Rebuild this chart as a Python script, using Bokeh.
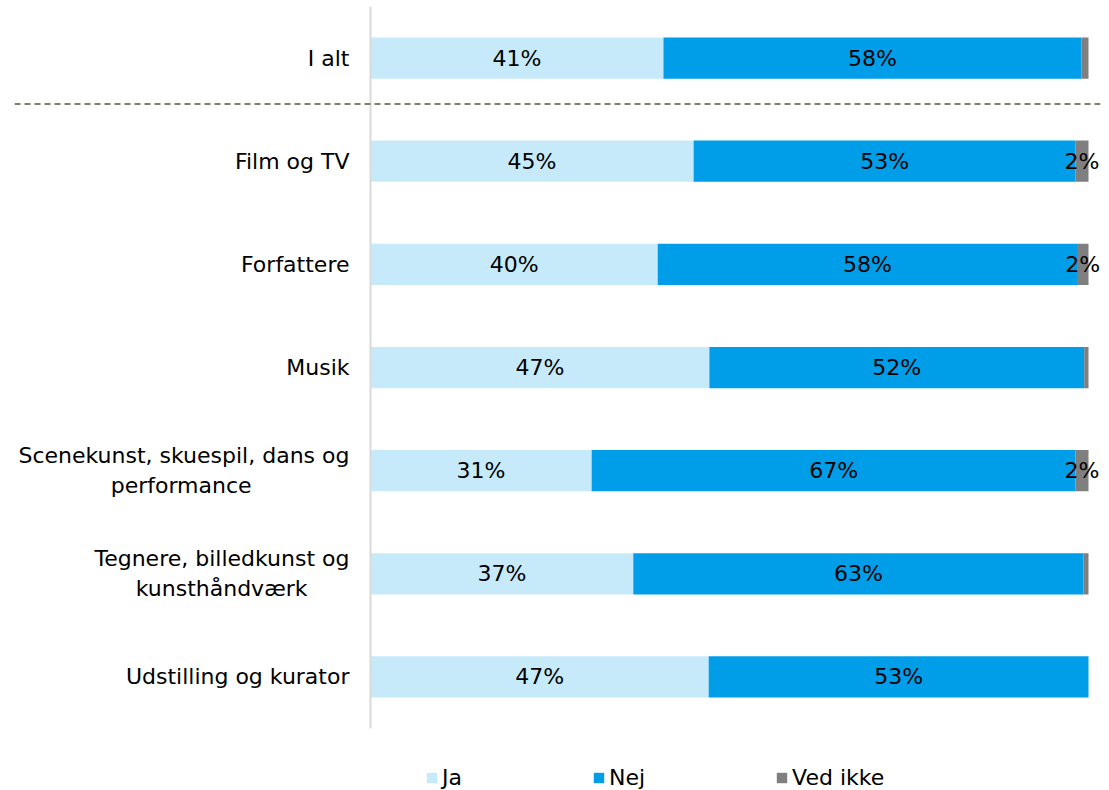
from bokeh.plotting import figure
from bokeh.models import Range1d, Span, Legend, LegendItem, ColumnDataSource, FixedTicker
from bokeh.embed import file_html
from bokeh.resources import INLINE
from bokeh.core.properties import value

NB = "\u00a0"
categories = ["I alt", "Film og TV", "Forfattere", "Musik",
              "Scenekunst, skuespil, dans og\nperformance" + NB * 14,
              "Tegnere, billedkunst og\nkunsthåndværk" + NB * 6,
              "Udstilling og kurator"]
ja = [40.8, 45.0, 40.0, 47.2, 30.8, 36.6, 47.1]
nej = [58.2, 53.2, 58.4, 52.2, 67.4, 62.7, 52.9]
ved_ikke = [1.0, 1.8, 1.6, 0.6, 1.8, 0.7, 0.0]
series = ["Ja", "Nej", "Ved ikke"]
colors = ["#c7eafb", "#009ee8", "#7f7f7f"]

FONT = "DejaVu Sans"
FS = "22px"

n = len(categories)
ypos = [n - 1 - i for i in range(n)]  # first category on top
src = ColumnDataSource(dict(y=ypos, Ja=ja, Nej=nej, Ved=ved_ikke))

p = figure(y_range=Range1d(-1.101, n - 0.5),
           x_range=Range1d(-49.58, 101.67),
           frame_width=1086, frame_height=784,
           min_border_left=14, min_border_right=5, min_border_top=6, min_border_bottom=0,
           output_backend="svg", toolbar_location=None)

rs = p.hbar_stack(["Ja", "Nej", "Ved"], y="y", height=0.4, color=colors,
                  line_color=None, source=src)

# value labels
lx, ly, lt = [], [], []
for i in range(n):
    vals = [ja[i], nej[i], ved_ikke[i]]
    left = 0.0
    for v in vals:
        if v >= 1.5:
            lx.append(left + v / 2)
            ly.append(ypos[i])
            lt.append(f"{round(v):.0f}%")
        left += v
p.text(x=lx, y=ly, text=lt, text_align="center", text_baseline="middle",
       text_font=value(FONT), text_font_size=FS, text_color="#000000")

# category axis line
p.segment(x0=[0], y0=[-0.5], x1=[0], y1=[n - 0.5], line_color="#d9d9d9", line_width=2)

# dashed separator between total and groups
p.add_layout(Span(location=ypos[0] - 0.446, dimension="width", line_color="#7f7f6c",
                  line_dash="6 4", line_width=2))

p.xaxis.visible = False
p.xgrid.visible = False
p.ygrid.visible = False
p.outline_line_color = None

ax = p.yaxis[0]
ax.fixed_location = 0
ax.ticker = FixedTicker(ticks=ypos)
ax.major_label_overrides = {yy: c for yy, c in zip(ypos, categories)}
ax.axis_line_color = None
ax.major_tick_line_color = None
ax.minor_tick_line_color = None
ax.major_label_text_font = FONT
ax.major_label_text_font_size = FS
ax.major_label_text_color = "#000000"
ax.major_label_standoff = 15

legend = Legend(items=[LegendItem(label=s, renderers=[r]) for s, r in zip(series, rs)],
                orientation="horizontal", location=(411, 0),
                glyph_width=13, glyph_height=13, label_standoff=4, spacing=130,
                label_text_font=FONT, label_text_font_size=FS,
                label_text_color="#000000", border_line_color=None,
                background_fill_alpha=0, padding=0, margin=0)
p.add_layout(legend, "center")

open("out.html", "w").write(file_html(p, INLINE))
